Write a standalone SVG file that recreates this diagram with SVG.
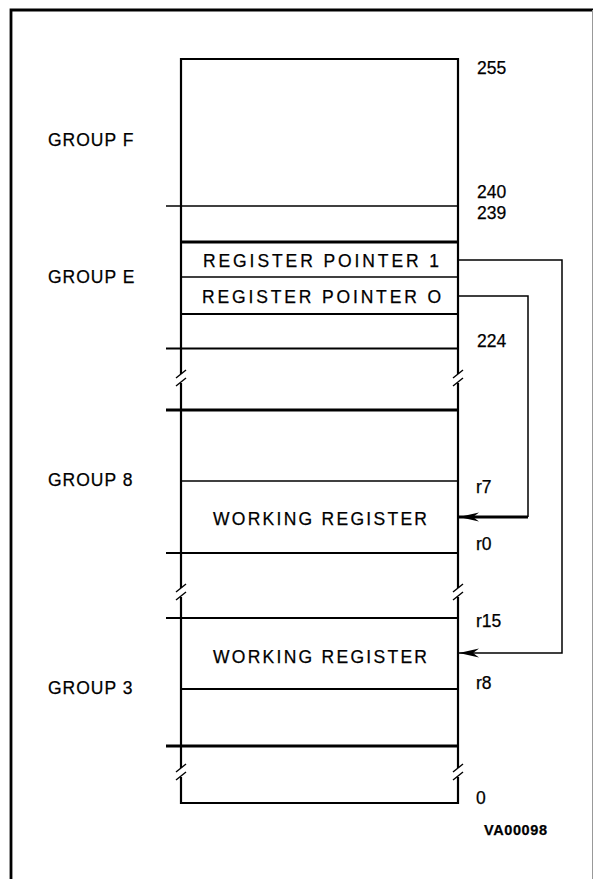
<svg xmlns="http://www.w3.org/2000/svg" width="593" height="879" viewBox="0 0 593 879">
<style>
text{font-family:"Liberation Sans",Arial,sans-serif;font-size:17.5px;fill:#000;stroke:#000;stroke-width:0.25}
.lbl{letter-spacing:1px}
.b{stroke:#000;stroke-width:2.2;fill:none}
.t{stroke:#000;stroke-width:1.5;fill:none}
.k{stroke:#000;stroke-width:2.8;fill:none}
</style>
<defs>
<marker id="ah" viewBox="0 0 20 10" refX="20" refY="5" markerWidth="20" markerHeight="10" markerUnits="userSpaceOnUse" orient="auto">
<path d="M20,5 L0,0.5 L6,5 L0,9.5 Z" fill="#000"/>
</marker>
</defs>
<rect width="593" height="879" fill="#fff"/>
<g id="frame">
<path class="k" d="M11,879 V10 H593"/>
<line x1="592.5" y1="10" x2="592.5" y2="879" stroke="#999" stroke-width="1"/>
</g>
<g id="memory">
<path class="b" d="M181,374 V59 H458 V374"/>
<path class="b" d="M181,383 V588"/>
<path class="b" d="M458,383 V588"/>
<path class="b" d="M181,597 V768"/>
<path class="b" d="M458,597 V768"/>
<path class="b" d="M181,777 V803 H458 V777"/>
<g class="t">
<path d="M176,378 L186,370"/><path d="M176,386 L186,378"/>
<path d="M453,378 L463,370"/><path d="M453,386 L463,378"/>
<path d="M176,592 L186,584"/><path d="M176,600 L186,592"/>
<path d="M453,592 L463,584"/><path d="M453,600 L463,592"/>
<path d="M176,772 L186,764"/><path d="M176,780 L186,772"/>
<path d="M453,772 L463,764"/><path d="M453,780 L463,772"/>
</g>
<line class="t" x1="166" y1="206" x2="458" y2="206"/>
<line class="k" x1="181" y1="242" x2="458" y2="242"/>
<line class="t" x1="181" y1="277" x2="458" y2="277"/>
<line class="b" x1="181" y1="314" x2="458" y2="314"/>
<line class="b" x1="166" y1="348.5" x2="458" y2="348.5"/>
<line class="k" x1="166" y1="410" x2="458" y2="410"/>
<line class="t" x1="181" y1="481" x2="458" y2="481"/>
<line class="b" x1="166" y1="553" x2="458" y2="553"/>
<line class="b" x1="166" y1="618" x2="458" y2="618"/>
<line class="b" x1="181" y1="689" x2="458" y2="689"/>
<line class="k" x1="166" y1="746" x2="458" y2="746"/>
</g>
<g id="group-labels" class="lbl">
<text x="48" y="146">GROUP  F</text>
<text x="48" y="283">GROUP  E</text>
<text x="48" y="486">GROUP  8</text>
<text x="48" y="694">GROUP  3</text>
</g>
<g id="cells" class="lbl">
<text x="203" y="266.5" textLength="237" lengthAdjust="spacing">REGISTER  POINTER  1</text>
<text x="202" y="303" textLength="240" lengthAdjust="spacing">REGISTER  POINTER  O</text>
<text x="213" y="525" textLength="215" lengthAdjust="spacing">WORKING  REGISTER</text>
<text x="213" y="662.5" textLength="215" lengthAdjust="spacing">WORKING  REGISTER</text>
</g>
<g id="addresses">
<text x="477" y="74">255</text>
<text x="477" y="198">240</text>
<text x="477" y="219">239</text>
<text x="477" y="347">224</text>
<text x="476" y="493">r7</text>
<text x="476" y="550">r0</text>
<text x="476" y="627">r15</text>
<text x="476" y="689">r8</text>
<text x="476" y="804">0</text>
<text x="484" y="835" style="font-size:14.5px;font-weight:bold;letter-spacing:0.6px">VA00098</text>
</g>
<g id="connectors">
<path class="t" d="M458,260 H562 V653 H459" marker-end="url(#ah)"/>
<path class="t" d="M458,296 H528 V517"/>
<path d="M528,517 H459" stroke="#000" stroke-width="3" fill="none" marker-end="url(#ah)"/>
</g>
</svg>
